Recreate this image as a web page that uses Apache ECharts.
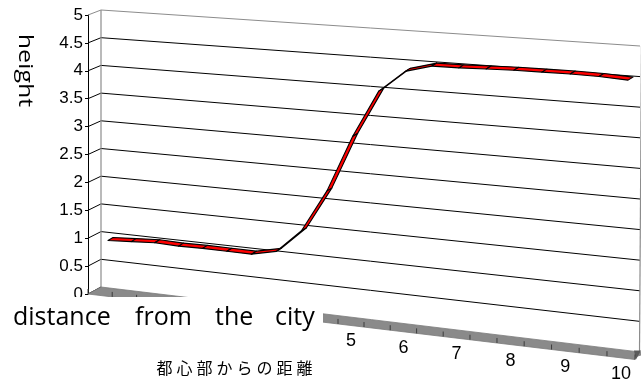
<!DOCTYPE html>
<html>
<head>
<meta charset="utf-8">
<script src="https://cdn.jsdelivr.net/npm/echarts@6.0.0/dist/echarts.min.js"></script>
<style>
  html, body { margin: 0; padding: 0; background: #fff; }
  #chart { width: 641px; height: 383px; }
</style>
</head>
<body>
<div id="chart"></div>
<script>
// Distance from the city centre, in half steps
const distances = ['0', '0.5', '1', '1.5', '2', '2.5', '3', '3.5', '4', '4.5', '5',
                   '5.5', '6', '6.5', '7', '7.5', '8', '8.5', '9', '9.5', '10'];
// Height at each distance
const heights = [1.0, 1.02, 1.04, 1.02, 1.02, 1.01, 1.0, 1.09, 1.49, 2.22, 3.2,
                 4.01, 4.38, 4.5, 4.5, 4.51, 4.52, 4.52, 4.52, 4.51, 4.48];
// Value axis ticks
const heightTicks = [0, 0.5, 1, 1.5, 2, 2.5, 3, 3.5, 4, 4.5, 5];
// Distances that get a label under the floor
const distanceTickLabels = ['0', '1', '2', '3', '4', '5', '6', '7', '8', '9', '10'];
// Axis titles
const titleY = 'height';
const titleXWords = ['distance', 'from', 'the', 'city'];
const titleXJa = '都心部からの距離';

// ---- 3-D look: three planes (back wall, floor front, ribbon) ----
const BACK  = { xL: 101,   xR: 640,   r: 1.132, xa: 101, xb: 640, ya: 287,   yb: 352,   ha: 277, hb: 306 };
const FRONT = { xL: 88,    xR: 635,   r: 1.08,  xa: 88,  xb: 635, ya: 294,   yb: 359.5, ha: 279, hb: 308 };
const RIBBON = { xL: 101.5, xR: 647.7, r: 1.132, xa: 101, xb: 641, ya: 292.2, yb: 348.0, ha: 279, hb: 301.7 };
const RIBBON_DEPTH = [-5, 3];

function warp(u, r) { return u / (u + r * (1 - u)); }
function project(pl, u, t) {
  const x = pl.xL + (pl.xR - pl.xL) * warp(u, pl.r);
  const s = (x - pl.xa) / (pl.xb - pl.xa);
  const y = pl.ya + (pl.yb - pl.ya) * s - t * (pl.ha + (pl.hb - pl.ha) * s);
  return [x, y];
}
// axis coordinates -> normalised (u along distance, t along height)
function norm(params, api, cat, val) {
  const cs = params.coordSys;
  const p = api.coord([cat, val]);
  return { u: (p[0] - cs.x) / cs.width, t: (cs.y + cs.height - p[1]) / cs.height };
}

const NUM_FONT = "'Liberation Sans Narrow', 'Liberation Sans', Arial, sans-serif";
const TITLE_FONT = "'Open Sans', 'Noto Sans', sans-serif";
const JA_FONT = "'Noto Sans CJK JP', sans-serif";
const yMax = heightTicks[heightTicks.length - 1];

const wallSeries = {
  type: 'custom',
  clip: false,
  z: 1,
  silent: true,
  data: heightTicks.map(v => [0, v]),
  renderItem(params, api) {
    const v = api.value(1);
    const t = norm(params, api, 0, v).t;
    const f = project(FRONT, 0, t);
    const b0 = project(BACK, 0, t);
    const b1 = project(BACK, 1, t);
    const top = v === yMax;
    const children = [{
      type: 'polyline',
      shape: { points: v === 0 ? [f, b0] : [f, b0, b1] },
      style: { stroke: top ? '#8c8c8c' : '#000', lineWidth: 1, fill: null }
    }];
    if (top) {
      // wall edges
      children.push({ type: 'line', shape: { x1: project(BACK, 0, 0)[0], y1: project(BACK, 0, 0)[1], x2: b0[0], y2: b0[1] },
                      style: { stroke: '#8c8c8c', lineWidth: 1.2 } });
      children.push({ type: 'line', shape: { x1: project(BACK, 1, 0)[0] - 0.5, y1: project(BACK, 1, 0)[1], x2: b1[0] + 1.5, y2: b1[1] },
                      style: { stroke: '#8c8c8c', lineWidth: 1.2 } });
    }
    return { type: 'group', children };
  }
};

const floorSeries = {
  type: 'custom',
  clip: false,
  z: 2,
  silent: true,
  data: [[0, 0]],
  renderItem(params, api) {
    const t0 = norm(params, api, 0, 0).t;
    const bl = project(BACK, 0, t0), br = project(BACK, 1, t0);
    const fl = project(FRONT, 0, t0), fr = project(FRONT, 1, t0);
    const children = [{
      type: 'polygon',
      shape: { points: [bl, [br[0] + 8, br[1] + 1], [fr[0] + 1, fr[1] - 3], fr, fl] },
      style: { fill: '#8a8a8a', stroke: '#7a7a7a', lineWidth: 0.8 }
    }, {
      type: 'polygon',
      shape: { points: [[fr[0] - 1, fr[1] - 9], [fr[0] + 6, fr[1] - 9], [fr[0] + 1, fr[1]]] },
      style: { fill: '#5a5a5a' }
    }];
    for (let k = 0; k <= distances.length; k++) {
      const p = project(FRONT, k / distances.length, t0);
      children.push({ type: 'line', shape: { x1: p[0], y1: p[1] - 5, x2: p[0], y2: p[1] },
                      style: { stroke: '#3c3c3c', lineWidth: 1 } });
    }
    return { type: 'group', children };
  }
};

const ribbonSeries = {
  type: 'custom',
  clip: false,
  z: 3,
  silent: true,
  data: heights.slice(0, -1).map((v, i) => [i, v, heights[i + 1]]),
  renderItem(params, api) {
    const i = api.value(0);
    const a = norm(params, api, i, api.value(1));
    const b = norm(params, api, i + 1, api.value(2));
    const pa = project(RIBBON, a.u, a.t);
    const pb = project(RIBBON, b.u, b.t);
    const qa = [pa[0] + RIBBON_DEPTH[0], pa[1] + RIBBON_DEPTH[1]];
    const qb = [pb[0] + RIBBON_DEPTH[0], pb[1] + RIBBON_DEPTH[1]];
    return {
      type: 'polygon',
      shape: { points: [pa, pb, qb, qa] },
      style: { fill: '#ff0000', stroke: '#000', lineWidth: 1.1, lineJoin: 'round' }
    };
  }
};

const floorLabelSeries = {
  type: 'custom',
  clip: false,
  z: 4,
  silent: true,
  data: distances.map((d, i) => [i, 0]),
  renderItem(params, api) {
    const i = api.value(0);
    const name = distances[i];
    if (distanceTickLabels.indexOf(name) < 0) return null;
    const n = norm(params, api, i, 0);
    const p = project(FRONT, n.u, n.t);
    return {
      type: 'text',
      x: p[0], y: p[1] + 16,
      style: { text: name, fill: '#000', font: '18px ' + NUM_FONT, align: 'center', verticalAlign: 'middle' }
    };
  }
};

// axis title box (white background sits over the floor's left end)
const wordX = [13, 135, 215, 275];
const graphics = [
  { type: 'rect', z: 100, shape: { x: 0, y: 297, width: 323, height: 44 }, style: { fill: '#fff' } }
];
titleXWords.forEach((w, k) => graphics.push({
  type: 'text', z: 101, x: wordX[k], y: 318,
  style: { text: w, fill: '#000', font: '25px ' + TITLE_FONT, align: 'left', verticalAlign: 'middle' }
}));
Array.from(titleXJa).forEach((ch, k) => graphics.push({
  type: 'text', z: 101, x: 164.5 + 20 * k, y: 367.5,
  style: { text: ch, fill: '#000', font: '16px ' + JA_FONT, align: 'center', verticalAlign: 'middle' }
}));
graphics.push({
  type: 'text', z: 101, x: 25, y: 70.5, rotation: -Math.PI / 2, scaleY: 0.8,
  style: { text: titleY, fill: '#000', font: '25px ' + TITLE_FONT, align: 'center', verticalAlign: 'middle' }
});

const chart = echarts.init(document.getElementById('chart'), null, { renderer: 'canvas' });
chart.setOption({
  animation: false,
  backgroundColor: '#fff',
  grid: { left: 88, top: 15, width: 547, height: 279 },
  xAxis: { type: 'category', data: distances, show: false },
  yAxis: {
    type: 'value', min: 0, max: yMax, interval: 0.5,
    axisLine: { show: true, lineStyle: { color: '#000', width: 1 } },
    axisTick: { show: true, length: 3, lineStyle: { color: '#000' } },
    splitLine: { show: false },
    axisLabel: { color: '#000', fontSize: 17, fontFamily: NUM_FONT, margin: 5, padding: [6, 0, 0, 0] }
  },
  series: [wallSeries, floorSeries, ribbonSeries, floorLabelSeries],
  graphic: graphics
});
</script>
</body>
</html>
